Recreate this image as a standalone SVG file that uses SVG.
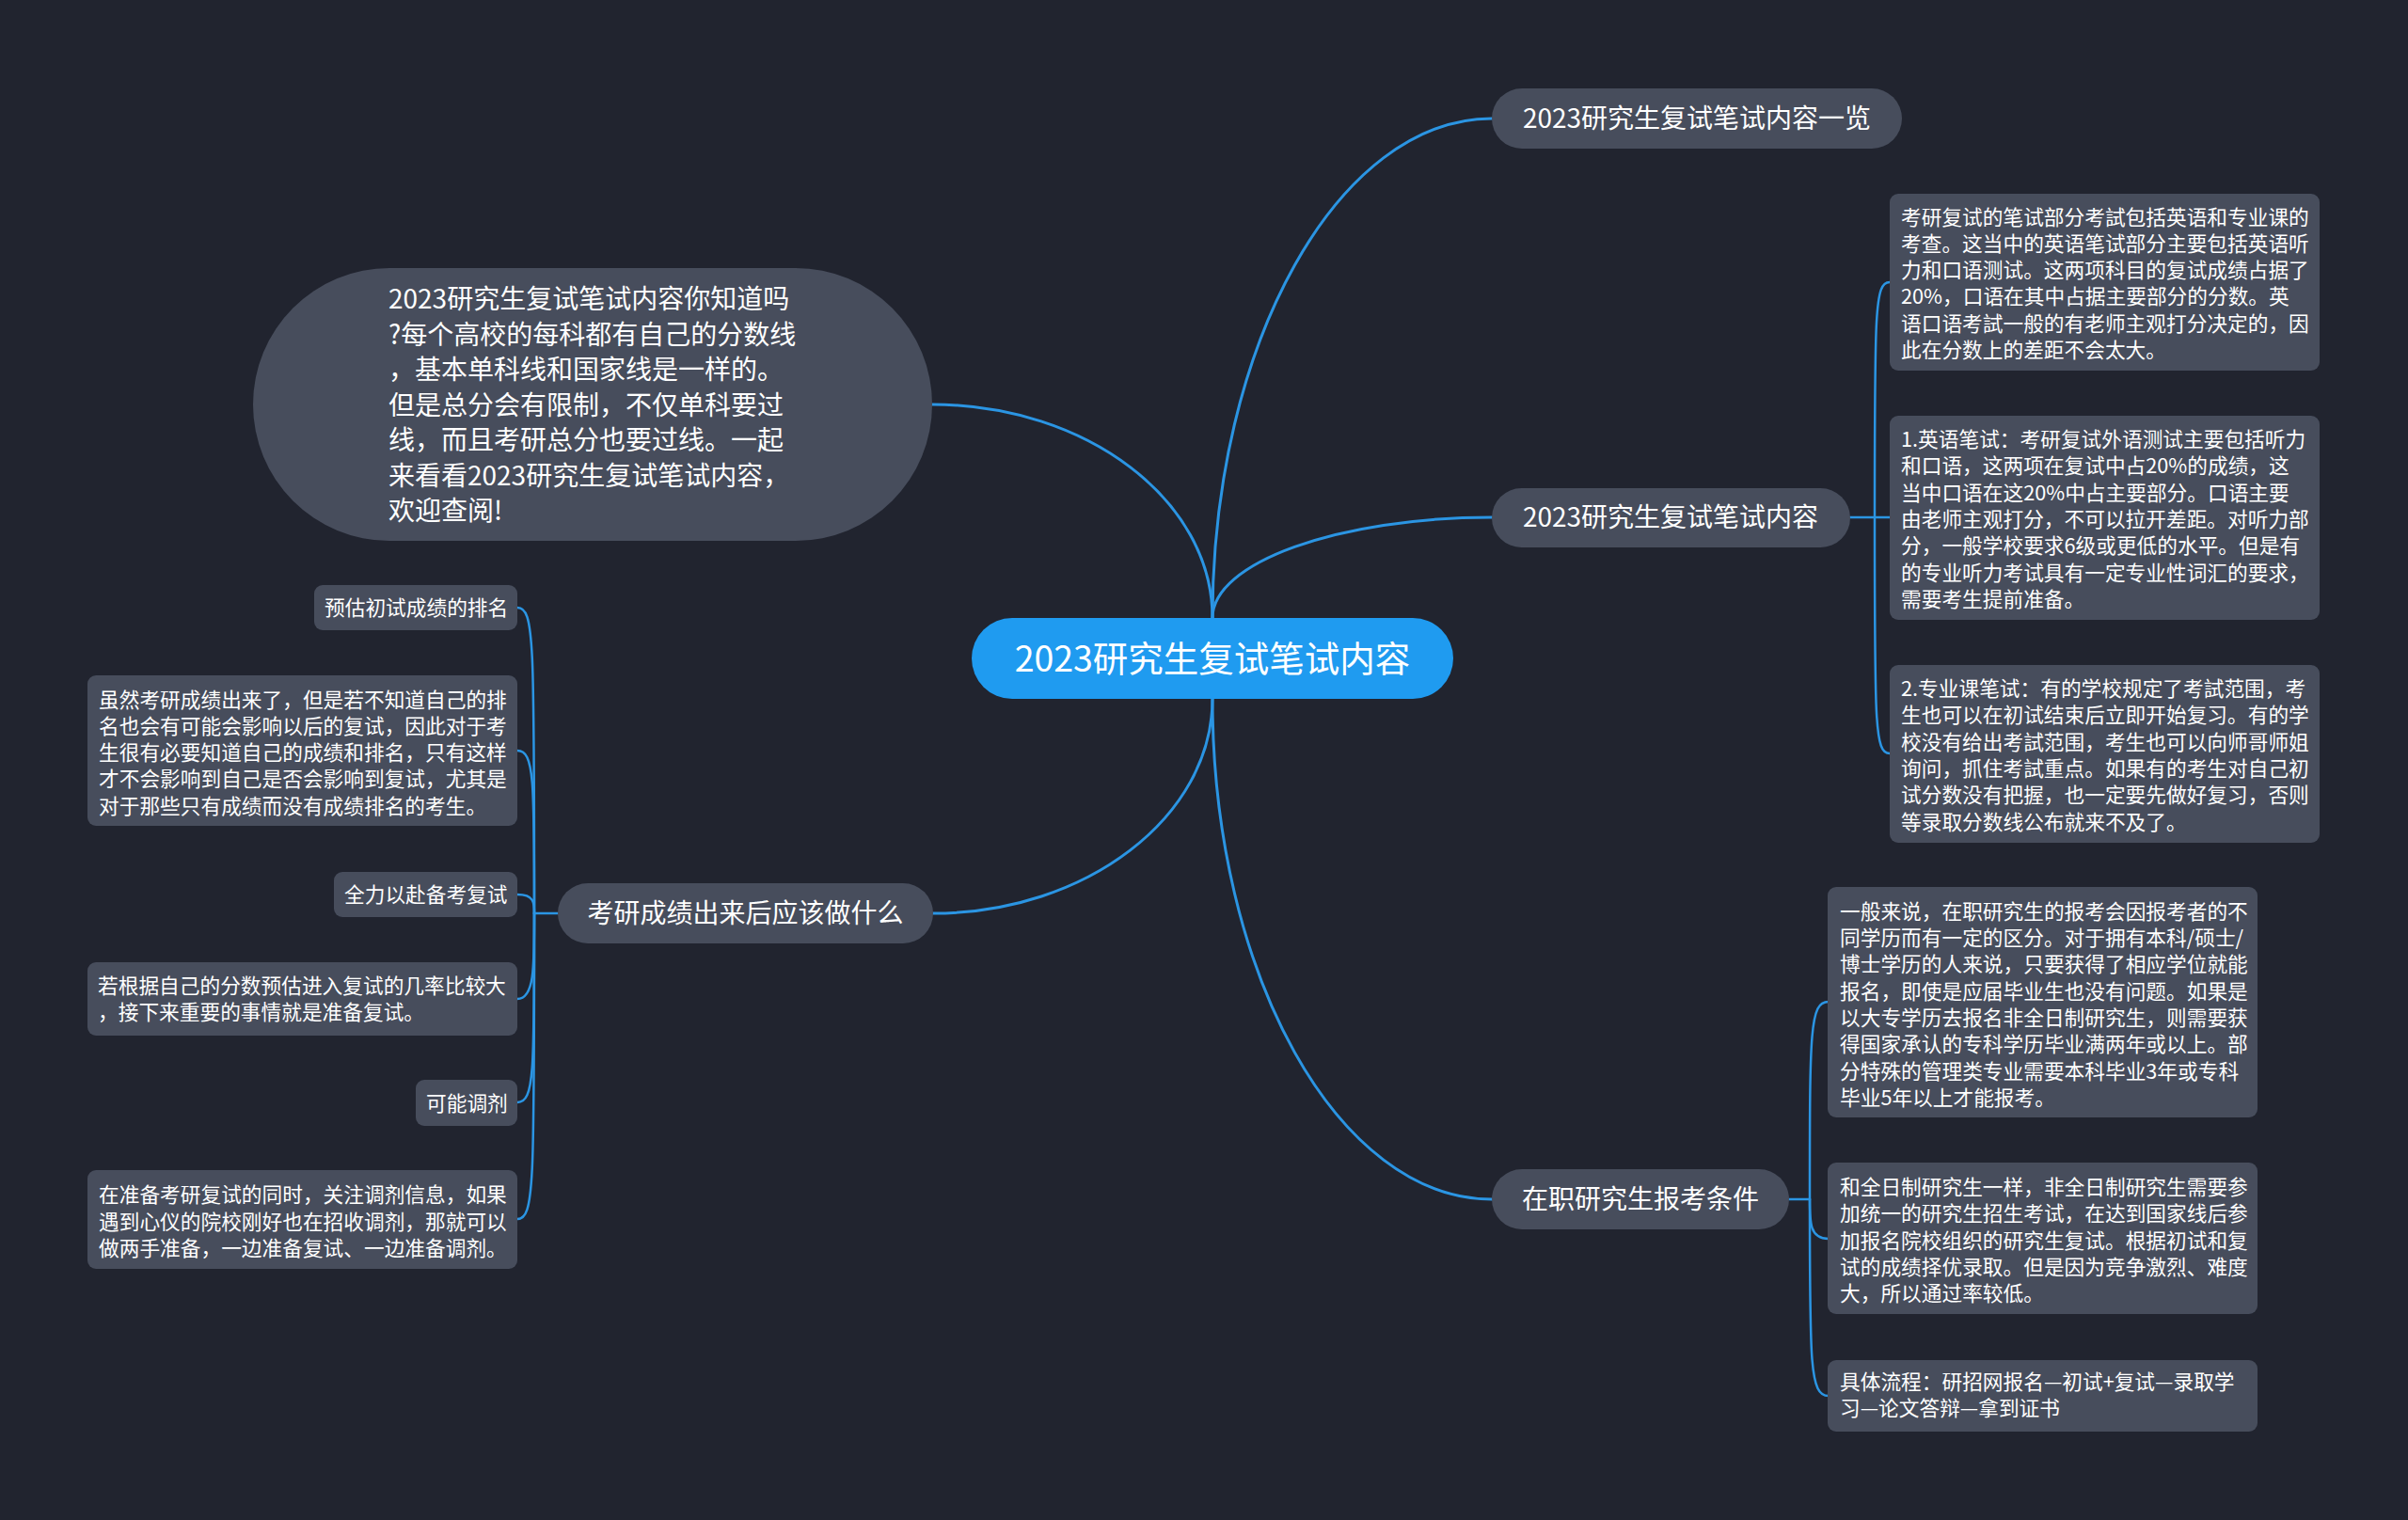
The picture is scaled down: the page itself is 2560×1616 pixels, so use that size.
<svg xmlns="http://www.w3.org/2000/svg" width="2560" height="1616" viewBox="0 0 2560 1616">
<style>
text{font-family:"Noto Sans CJK SC","Noto Sans",sans-serif;fill:#ffffff}
.node{fill:#474d5c}
.leaf{fill:#474d5c}
.root{fill:#1f9bf0}
.t1{font-size:28px}
.t0{font-size:37.5px}
.tl{font-size:21.7px}
.mid{text-anchor:middle}
.c{fill:none;stroke:#2b95e3;stroke-width:3;stroke-linecap:round}
.b{fill:none;stroke:#2b95e3;stroke-width:2.5;stroke-linecap:round}
</style>
<rect width="2560" height="1616" fill="#21242f"/>
<g id="connectors">
<path class="c" d="M1289,657 C1289,365 1423,126 1586,126"/>
<path class="c" d="M1289,657 C1289,598 1423,550 1586,550"/>
<path class="c" d="M1289,657 C1289,532 1155,430 991,430"/>
<path class="c" d="M1289,743 C1289,868 1155,971 992,971"/>
<path class="c" d="M1289,743 C1289,1036 1423,1275 1586,1275"/>
<path class="b" d="M1967,550 H1993"/>
<path class="b" d="M1993,550 C1993,330 1993,300 2009,300"/>
<path class="b" d="M1993,550 H2009"/>
<path class="b" d="M1993,550 C1993,770 1993,801 2009,801"/>
<path class="b" d="M1902,1275 H1924"/>
<path class="b" d="M1924,1275 C1924,1095 1924,1065 1944,1065"/>
<path class="b" d="M1924,1275 C1924,1300 1924,1317 1944,1317"/>
<path class="b" d="M1924,1275 C1924,1450 1924,1484 1944,1484"/>
<path class="b" d="M593,971 H568"/>
<path class="b" d="M568,971 C568,680 568,646 550,646"/>
<path class="b" d="M568,971 C568,830 568,798 550,798"/>
<path class="b" d="M568,971 C568,960 568,951 550,951"/>
<path class="b" d="M568,971 C568,1030 568,1062 550,1062"/>
<path class="b" d="M568,971 C568,1140 568,1172 550,1172"/>
<path class="b" d="M568,971 C568,1260 568,1296 550,1296"/>
</g>
<g id="root">
<rect class="root" x="1033" y="657" width="512" height="86" rx="43"/>
<text class="t0 mid" x="1289" y="714">2023研究生复试笔试内容</text>
</g>
<g id="n-overview">
<rect class="node" x="1586" y="94" width="436" height="64" rx="32"/>
<text class="t1 mid" x="1804" y="136">2023研究生复试笔试内容一览</text>
</g>
<g id="n-content">
<rect class="node" x="1586" y="519" width="381" height="63" rx="31.5"/>
<text class="t1 mid" x="1776" y="560">2023研究生复试笔试内容</text>
</g>
<g id="n-intro">
<rect class="node" x="269" y="285" width="722" height="290" rx="145"/>
<text class="t1" x="413" y="328">2023研究生复试笔试内容你知道吗</text>
<text class="t1" x="413" y="365.5">?每个高校的每科都有自己的分数线</text>
<text class="t1" x="413" y="403">，基本单科线和国家线是一样的。</text>
<text class="t1" x="413" y="440.5">但是总分会有限制，不仅单科要过</text>
<text class="t1" x="413" y="478">线，而且考研总分也要过线。一起</text>
<text class="t1" x="413" y="515.5">来看看2023研究生复试笔试内容，</text>
<text class="t1" x="413" y="553">欢迎查阅!</text>
</g>
<g id="n-after">
<rect class="node" x="593" y="939" width="399" height="64" rx="32"/>
<text class="t1 mid" x="792.5" y="981">考研成绩出来后应该做什么</text>
</g>
<g id="n-condition">
<rect class="node" x="1586" y="1243" width="316" height="64" rx="32"/>
<text class="t1 mid" x="1744" y="1285">在职研究生报考条件</text>
</g>
<g id="leaf-a">
<rect class="leaf" x="2009" y="206" width="457" height="188" rx="9"/>
<text class="tl" x="2021" y="238.5">考研复试的笔试部分考試包括英语和专业课的</text>
<text class="tl" x="2021" y="266.8">考查。这当中的英语笔试部分主要包括英语听</text>
<text class="tl" x="2021" y="295.1">力和口语测试。这两项科目的复试成绩占据了</text>
<text class="tl" x="2021" y="323.4">20%，口语在其中占据主要部分的分数。英</text>
<text class="tl" x="2021" y="351.7">语口语考試一般的有老师主观打分决定的，因</text>
<text class="tl" x="2021" y="380">此在分数上的差距不会太大。</text>
</g>
<g id="leaf-b">
<rect class="leaf" x="2009" y="442" width="457" height="217" rx="9"/>
<text class="tl" x="2021" y="475">1.英语笔试：考研复试外语测试主要包括听力</text>
<text class="tl" x="2021" y="503.3">和口语，这两项在复试中占20%的成绩，这</text>
<text class="tl" x="2021" y="531.6">当中口语在这20%中占主要部分。口语主要</text>
<text class="tl" x="2021" y="559.9">由老师主观打分，不可以拉开差距。对听力部</text>
<text class="tl" x="2021" y="588.2">分，一般学校要求6级或更低的水平。但是有</text>
<text class="tl" x="2021" y="616.5">的专业听力考试具有一定专业性词汇的要求，</text>
<text class="tl" x="2021" y="644.8">需要考生提前准备。</text>
</g>
<g id="leaf-c">
<rect class="leaf" x="2009" y="707" width="457" height="189" rx="9"/>
<text class="tl" x="2021" y="740">2.专业课笔试：有的学校规定了考試范围，考</text>
<text class="tl" x="2021" y="768.3">生也可以在初试结束后立即开始复习。有的学</text>
<text class="tl" x="2021" y="796.6">校没有给出考試范围，考生也可以向师哥师姐</text>
<text class="tl" x="2021" y="824.9">询问，抓住考試重点。如果有的考生对自己初</text>
<text class="tl" x="2021" y="853.2">试分数没有把握，也一定要先做好复习，否则</text>
<text class="tl" x="2021" y="881.5">等录取分数线公布就来不及了。</text>
</g>
<g id="leaf-d">
<rect class="leaf" x="1943" y="943" width="457" height="245" rx="9"/>
<text class="tl" x="1956" y="976.7">一般来说，在职研究生的报考会因报考者的不</text>
<text class="tl" x="1956" y="1005">同学历而有一定的区分。对于拥有本科/硕士/</text>
<text class="tl" x="1956" y="1033.3">博士学历的人来说，只要获得了相应学位就能</text>
<text class="tl" x="1956" y="1061.6">报名，即使是应届毕业生也没有问题。如果是</text>
<text class="tl" x="1956" y="1089.9">以大专学历去报名非全日制研究生，则需要获</text>
<text class="tl" x="1956" y="1118.2">得国家承认的专科学历毕业满两年或以上。部</text>
<text class="tl" x="1956" y="1146.5">分特殊的管理类专业需要本科毕业3年或专科</text>
<text class="tl" x="1956" y="1174.8">毕业5年以上才能报考。</text>
</g>
<g id="leaf-e">
<rect class="leaf" x="1943" y="1236" width="457" height="161" rx="9"/>
<text class="tl" x="1956" y="1270">和全日制研究生一样，非全日制研究生需要参</text>
<text class="tl" x="1956" y="1298.3">加统一的研究生招生考试，在达到国家线后参</text>
<text class="tl" x="1956" y="1326.6">加报名院校组织的研究生复试。根据初试和复</text>
<text class="tl" x="1956" y="1354.9">试的成绩择优录取。但是因为竞争激烈、难度</text>
<text class="tl" x="1956" y="1383.2">大，所以通过率较低。</text>
</g>
<g id="leaf-f">
<rect class="leaf" x="1943" y="1446" width="457" height="76" rx="9"/>
<text class="tl" x="1956" y="1477">具体流程：研招网报名—初试+复试—录取学</text>
<text class="tl" x="1956" y="1505.3">习—论文答辩—拿到证书</text>
</g>
<g id="leaf-rank">
<rect class="leaf" x="334" y="622" width="216" height="48" rx="9"/>
<text class="tl" x="345" y="654">预估初试成绩的排名</text>
</g>
<g id="leaf-rank-detail">
<rect class="leaf" x="93" y="718" width="457" height="160" rx="9"/>
<text class="tl" x="105" y="751.5">虽然考研成绩出来了，但是若不知道自己的排</text>
<text class="tl" x="105" y="779.8">名也会有可能会影响以后的复试，因此对于考</text>
<text class="tl" x="105" y="808.1">生很有必要知道自己的成绩和排名，只有这样</text>
<text class="tl" x="105" y="836.4">才不会影响到自己是否会影响到复试，尤其是</text>
<text class="tl" x="105" y="864.7">对于那些只有成绩而没有成绩排名的考生。</text>
</g>
<g id="leaf-prepare">
<rect class="leaf" x="355" y="927" width="195" height="48" rx="9"/>
<text class="tl" x="366" y="959">全力以赴备考复试</text>
</g>
<g id="leaf-prepare-detail">
<rect class="leaf" x="93" y="1023" width="457" height="78" rx="9"/>
<text class="tl" x="104" y="1056">若根据自己的分数预估进入复试的几率比较大</text>
<text class="tl" x="104" y="1084.3">，接下来重要的事情就是准备复试。</text>
</g>
<g id="leaf-adjust">
<rect class="leaf" x="442" y="1148" width="108" height="49" rx="9"/>
<text class="tl" x="453" y="1181">可能调剂</text>
</g>
<g id="leaf-adjust-detail">
<rect class="leaf" x="93" y="1244" width="457" height="105" rx="9"/>
<text class="tl" x="105" y="1278.2">在准备考研复试的同时，关注调剂信息，如果</text>
<text class="tl" x="105" y="1306.5">遇到心仪的院校刚好也在招收调剂，那就可以</text>
<text class="tl" x="105" y="1334.8">做两手准备，一边准备复试、一边准备调剂。</text>
</g>
</svg>
